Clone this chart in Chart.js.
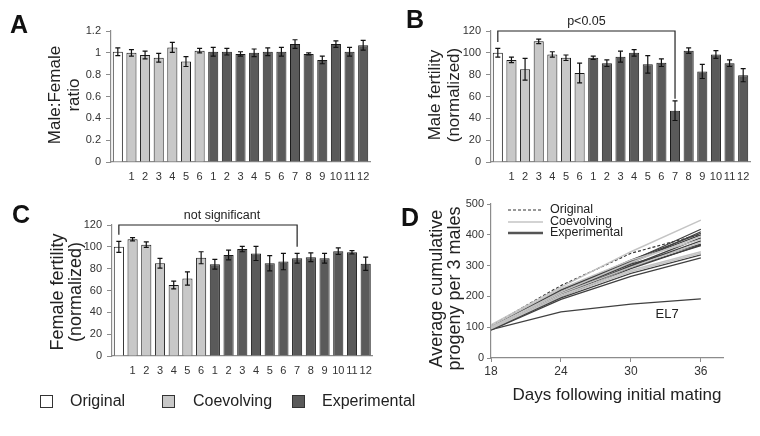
<!DOCTYPE html>
<html>
<head>
<meta charset="utf-8">
<script src="https://cdn.jsdelivr.net/npm/chart.js@4"></script>
<style>
  body { margin: 0; background: #fff; font-family: "Liberation Sans", Arial, sans-serif; color: #222; }
  #page { position: relative; width: 760px; height: 436px; overflow: hidden; }
  canvas { position: absolute; }
  .letter { position: absolute; font-weight: bold; font-size: 25px; line-height: 25px; color: #111; }
  .ytitle { position: absolute; text-align: center; transform: rotate(-90deg); white-space: nowrap; }
  .box { position: absolute; width: 13px; height: 13px; border: 1px solid #333; box-sizing: border-box; }
  .leg { position: absolute; font-size: 16px; line-height: 18px; }
</style>
</head>
<body>
<div id="page">
  <canvas id="chartA" width="380" height="190" style="left:0;top:0"></canvas>
  <canvas id="chartB" width="380" height="190" style="left:380px;top:0"></canvas>
  <canvas id="chartC" width="380" height="200" style="left:0;top:190px"></canvas>
  <canvas id="chartD" width="380" height="246" style="left:380px;top:190px"></canvas>

  <div class="letter" style="left:10px;top:12px">A</div>
  <div class="letter" style="left:406px;top:7px">B</div>
  <div class="letter" style="left:12px;top:202px">C</div>
  <div class="letter" style="left:401px;top:205px">D</div>

  <div class="ytitle" style="left:-36.5px;top:76px;width:200px;height:38px;line-height:19px;font-size:17px">Male:Female<br>ratio</div>
  <div class="ytitle" style="left:343.5px;top:76px;width:200px;height:38px;line-height:19px;font-size:17px">Male fertility<br>(normalized)</div>
  <div class="ytitle" style="left:-34px;top:274px;width:200px;height:36px;line-height:18px;font-size:18px">Female fertility<br>(normalized)</div>
  <div class="ytitle" style="left:345px;top:271px;width:200px;height:35px;line-height:17.5px;font-size:18px">Average cumulative<br>progeny per 3 males</div>

  <div style="position:absolute;left:467px;top:385px;width:300px;text-align:center;font-size:17px;line-height:20px">Days following initial mating</div>

  <div class="box" style="left:40px;top:395px;background:#fff"></div>
  <div class="leg" style="left:70px;top:392px">Original</div>
  <div class="box" style="left:162px;top:395px;background:#c8c8c8"></div>
  <div class="leg" style="left:193px;top:392px">Coevolving</div>
  <div class="box" style="left:292px;top:395px;background:#5a5a5a"></div>
  <div class="leg" style="left:322px;top:392px">Experimental</div>
</div>
<script>
// lines: original, coevolving 1-6, experimental 1-12
var barLabels = ['', '1', '2', '3', '4', '5', '6', '1', '2', '3', '4', '5', '6', '7', '8', '9', '10', '11', '12'];
var barGroups = ['Original', 'Coevolving', 'Coevolving', 'Coevolving', 'Coevolving', 'Coevolving', 'Coevolving',
  'Experimental', 'Experimental', 'Experimental', 'Experimental', 'Experimental', 'Experimental',
  'Experimental', 'Experimental', 'Experimental', 'Experimental', 'Experimental', 'Experimental'];

var sexRatio    = [1.01, 1.00, 0.98, 0.955, 1.05, 0.92, 1.02, 1.01, 1.01, 0.99, 1.00, 1.01, 1.01, 1.08, 0.99, 0.935, 1.08, 1.01, 1.07];
var sexRatioErr = [0.035, 0.03, 0.035, 0.04, 0.045, 0.045, 0.02, 0.04, 0.03, 0.02, 0.035, 0.035, 0.04, 0.04, 0.01, 0.035, 0.03, 0.04, 0.045];

var maleFertility    = [100, 93.5, 85, 110.5, 98.5, 95.5, 81.5, 95.5, 90.5, 96.5, 100, 89.5, 91, 47, 102, 83, 98.5, 90.5, 79.5];
var maleFertilityErr = [4, 2.5, 10, 2, 2.5, 2.5, 9, 1.5, 3, 5, 3, 8, 3.5, 9, 2.5, 6.5, 3.5, 3, 6];

var femaleFertility    = [100, 107, 102, 85, 65, 71, 90, 84, 92.5, 98, 94, 85, 86.5, 89.5, 90.5, 89.5, 96, 95, 84.5];
var femaleFertilityErr = [5, 1.5, 2.5, 4.5, 3.5, 6, 5.5, 4.5, 4.5, 2.5, 6.5, 7, 7.5, 4.5, 4, 4.5, 3, 1.5, 6];

var days = [18, 24, 30, 36];
var progenyOriginal = [105, 235, 340, 402];
var progenyCoevolving = [
  [108, 230, 345, 448],
  [100, 215, 310, 395],
  [104, 225, 318, 385],
  [100, 210, 295, 375],
  [97, 205, 285, 345],
  [95, 200, 280, 340]
];
var progenyExperimental = [
  [98, 215, 315, 418],
  [96, 210, 308, 410],
  [100, 220, 318, 405],
  [102, 222, 312, 400],
  [94, 205, 300, 390],
  [95, 208, 298, 380],
  [92, 150, 175, 192],   // EL7
  [100, 212, 305, 370],
  [93, 198, 290, 367],
  [97, 205, 295, 365],
  [92, 195, 275, 335],
  [90, 190, 265, 325]
];

var groupColor = { Original: '#ffffff', Coevolving: '#c8c8c8', Experimental: '#5a5a5a' };
var axisColor = '#8c8c8c';
var fontName = '"Liberation Sans", Arial, sans-serif';

// error bars on top of each bar
var errorBars = {
  id: 'errorBars',
  afterDatasetsDraw(chart, args, opts) {
    if (!opts.errors) return;
    var meta = chart.getDatasetMeta(0);
    var y = chart.scales.y;
    var ctx = chart.ctx;
    var vals = chart.data.datasets[0].data;
    ctx.save();
    ctx.strokeStyle = '#111';
    ctx.lineWidth = 1.2;
    meta.data.forEach(function (bar, i) {
      var top = y.getPixelForValue(vals[i] + opts.errors[i]);
      var bot = y.getPixelForValue(vals[i] - opts.errors[i]);
      ctx.beginPath();
      ctx.moveTo(bar.x, top); ctx.lineTo(bar.x, bot);
      ctx.moveTo(bar.x - 2.5, top); ctx.lineTo(bar.x + 2.5, top);
      ctx.moveTo(bar.x - 2.5, bot); ctx.lineTo(bar.x + 2.5, bot);
      ctx.stroke();
    });
    ctx.restore();
  }
};

// significance bracket between two bars
var bracket = {
  id: 'bracket',
  afterDatasetsDraw(chart, args, o) {
    if (!o.label) return;
    var meta = chart.getDatasetMeta(0);
    var y = chart.scales.y;
    var ctx = chart.ctx;
    var x1 = meta.data[o.from].x, x2 = meta.data[o.to].x;
    var yt = y.getPixelForValue(o.top);
    ctx.save();
    ctx.strokeStyle = '#222';
    ctx.lineWidth = 1.2;
    ctx.beginPath();
    ctx.moveTo(x1, y.getPixelForValue(o.leftEnd));
    ctx.lineTo(x1, yt);
    ctx.lineTo(x2, yt);
    ctx.lineTo(x2, y.getPixelForValue(o.rightEnd));
    ctx.stroke();
    ctx.fillStyle = '#222';
    ctx.font = '12.5px ' + fontName;
    ctx.textAlign = 'center';
    ctx.textBaseline = 'bottom';
    ctx.fillText(o.label, (x1 + x2) / 2 + (o.shift || 0), yt - 3);
    ctx.restore();
  }
};

function makeBarChart(id, values, errors, yMax, step, area, h, bracketOpts) {
  var w = 380;
  return new Chart(document.getElementById(id), {
    type: 'bar',
    data: {
      labels: barLabels,
      datasets: [{
        data: values,
        backgroundColor: barGroups.map(function (g) { return groupColor[g]; }),
        borderColor: '#1a1a1a',
        borderWidth: 1,
        barPercentage: 0.74,
        categoryPercentage: 1
      }]
    },
    options: {
      responsive: false,
      animation: false,
      layout: { padding: { top: area.top, right: w - area.right, left: 0, bottom: 0 } },
      plugins: {
        legend: { display: false },
        tooltip: { enabled: false },
        errorBars: { errors: errors },
        bracket: bracketOpts || {}
      },
      scales: {
        x: {
          grid: { display: false, drawTicks: false },
          border: { display: true, color: axisColor, width: 1.2 },
          ticks: { font: { size: 11, family: fontName }, color: '#333', padding: 8, maxRotation: 0, autoSkip: false },
          afterFit: function (s) { s.height = h - area.bottom; }
        },
        y: {
          min: 0,
          max: yMax,
          ticks: {
            stepSize: step, font: { size: 11, family: fontName }, color: '#333', padding: 5,
            callback: function (v) { return String(Math.round(v * 10) / 10); }
          },
          grid: { drawOnChartArea: false, tickLength: 5, color: axisColor },
          border: { display: true, color: axisColor, width: 1.2 },
          afterFit: function (s) { s.width = area.left; }
        }
      }
    },
    plugins: [errorBars, bracket]
  });
}

makeBarChart('chartA', sexRatio, sexRatioErr, 1.2, 0.2, { left: 111, right: 370, top: 31, bottom: 162 }, 190);
makeBarChart('chartB', maleFertility, maleFertilityErr, 120, 20, { left: 111, right: 370, top: 31, bottom: 162 }, 190,
  { from: 0, to: 13, top: 120, leftEnd: 110, rightEnd: 58, label: 'p<0.05', shift: 0 });
makeBarChart('chartC', femaleFertility, femaleFertilityErr, 120, 20, { left: 112, right: 373, top: 35, bottom: 166 }, 200,
  { from: 0, to: 13, top: 120, leftEnd: 111, rightEnd: 100, label: 'not significant', shift: 14 });

// panel D
function toPoints(arr) {
  return arr.map(function (v, i) { return { x: days[i], y: v }; });
}

var lineSets = [];
progenyCoevolving.forEach(function (arr) {
  lineSets.push({ data: toPoints(arr), borderColor: '#c4c4c4', borderWidth: 1.4 });
});
progenyExperimental.forEach(function (arr) {
  lineSets.push({ data: toPoints(arr), borderColor: '#404040', borderWidth: 1.3 });
});
lineSets.push({ data: toPoints(progenyOriginal), borderColor: '#333', borderWidth: 1.2, borderDash: [3, 2] });

var lineLegend = {
  id: 'lineLegend',
  afterDatasetsDraw(chart) {
    var ctx = chart.ctx, a = chart.chartArea;
    var items = [
      { text: 'Original', color: '#333', width: 1.2, dash: [3, 2], dy: 6 },
      { text: 'Coevolving', color: '#c4c4c4', width: 1.5, dash: [], dy: 18 },
      { text: 'Experimental', color: '#555', width: 2.5, dash: [], dy: 29 }
    ];
    ctx.save();
    ctx.font = '12.5px ' + fontName;
    ctx.textBaseline = 'middle';
    items.forEach(function (it) {
      ctx.beginPath();
      ctx.setLineDash(it.dash);
      ctx.strokeStyle = it.color;
      ctx.lineWidth = it.width;
      ctx.moveTo(a.left + 17, a.top + it.dy);
      ctx.lineTo(a.left + 52, a.top + it.dy);
      ctx.stroke();
      ctx.fillStyle = '#222';
      ctx.fillText(it.text, a.left + 59, a.top + it.dy);
    });
    ctx.setLineDash([]);
    // EL7 label
    ctx.font = '13px ' + fontName;
    ctx.textAlign = 'center';
    ctx.fillText('EL7', chart.scales.x.getPixelForValue(33.1), chart.scales.y.getPixelForValue(140));
    ctx.restore();
  }
};

new Chart(document.getElementById('chartD'), {
  type: 'line',
  data: { datasets: lineSets },
  options: {
    responsive: false,
    animation: false,
    elements: { point: { radius: 0 }, line: { tension: 0 } },
    layout: { padding: { top: 14, right: 37, left: 0, bottom: 0 } },
    plugins: { legend: { display: false }, tooltip: { enabled: false } },
    scales: {
      x: {
        type: 'linear',
        min: 18,
        max: 37.9,
        ticks: { stepSize: 6, includeBounds: false, font: { size: 12, family: fontName }, color: '#333', padding: 2 },
        grid: { drawOnChartArea: false, tickLength: 4, color: axisColor },
        border: { display: true, color: axisColor, width: 1.2 },
        afterFit: function (s) { s.height = 246 - 168; }
      },
      y: {
        min: 0,
        max: 500,
        ticks: { stepSize: 100, font: { size: 11, family: fontName }, color: '#333', padding: 3 },
        grid: { drawOnChartArea: false, tickLength: 4, color: axisColor },
        border: { display: true, color: axisColor, width: 1.2 },
        afterFit: function (s) { s.width = 111; }
      }
    }
  },
  plugins: [lineLegend]
});
</script>
</body>
</html>
